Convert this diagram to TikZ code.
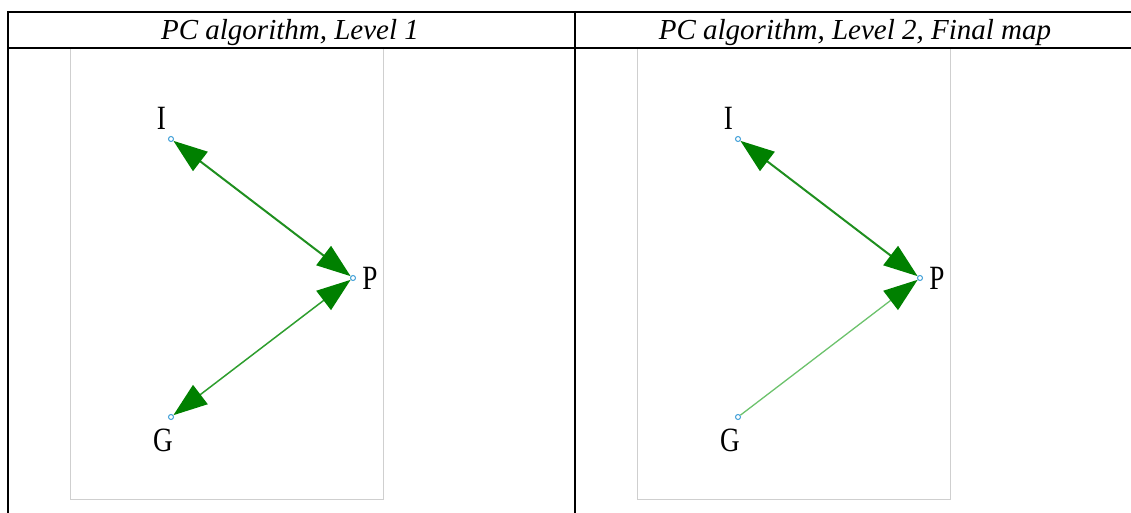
\documentclass[tikz,border=0pt]{standalone}
\usepackage{fontspec}
\setmainfont{Liberation Serif}
\usetikzlibrary{arrows.meta}
\definecolor{tipgreen}{HTML}{008000}
\definecolor{darkline}{HTML}{1F8F1F}
\definecolor{midline}{HTML}{2E9E2E}
\definecolor{lightline}{HTML}{6CC26C}
\definecolor{dotblue}{HTML}{3F9FD8}
\definecolor{panelgray}{HTML}{CFCFCF}
\begin{document}
\begin{tikzpicture}[x=1pt,y=-1pt,
  rule/.style={line width=2pt,black},
  panel/.style={draw=panelgray,line width=1pt},
  header/.style={anchor=base,inner sep=0pt,font=\fontsize{29}{34}\selectfont\itshape},
  lbl/.style={inner sep=0pt,font=\fontsize{34}{40}\selectfont,xscale=0.8},
  dot/.style={circle,draw=dotblue,fill=white,line width=1pt,minimum size=5pt,inner sep=0pt},
  bigtip/.style={-{Triangle[length=34pt,width=24pt,color=tipgreen]}},
  dbltip/.style={{Triangle[length=34pt,width=24pt,color=tipgreen]}-{Triangle[length=34pt,width=24pt,color=tipgreen]}},
  thickedge/.style={draw=darkline,line width=2pt},
  medge/.style={draw=midline,line width=1.5pt},
  ledge/.style={draw=lightline,line width=1.3pt}]
\useasboundingbox (0,0) rectangle (1131,513);
% panels
\draw[panel] (70,48) rectangle (383,499);
\draw[panel] (637,48) rectangle (950,499);
% table rules
\draw[rule] (7,12) -- (1131,12);
\draw[rule] (7,48) -- (1131,48);
\draw[rule] (8,11) -- (8,513);
\draw[rule] (575,11) -- (575,513);
% headers
\node[header] (h1) at (290,40) {PC algorithm, Level 1};
\node[header] (h2) at (855,40) {PC algorithm, Level 2, Final map};
% left graph
\node[dot] (iL) at (171,139) {};
\node[dot] (pL) at (353,278) {};
\node[dot] (gL) at (171,417) {};
\node[lbl] (liL) at (161.5,118) {I};
\node[lbl] (lpL) at (370,278) {P};
\node[lbl] (lgL) at (163,440) {G};
\draw[thickedge,dbltip] (iL) -- (pL);
\draw[medge,dbltip] (gL) -- (pL);
% right graph
\node[dot] (iR) at (738,139) {};
\node[dot] (pR) at (920,278) {};
\node[dot] (gR) at (738,417) {};
\node[lbl] (liR) at (728.5,118) {I};
\node[lbl] (lpR) at (937,278) {P};
\node[lbl] (lgR) at (730,440) {G};
\draw[thickedge,dbltip] (iR) -- (pR);
\draw[ledge,bigtip] (gR) -- (pR);
\end{tikzpicture}
\end{document}
